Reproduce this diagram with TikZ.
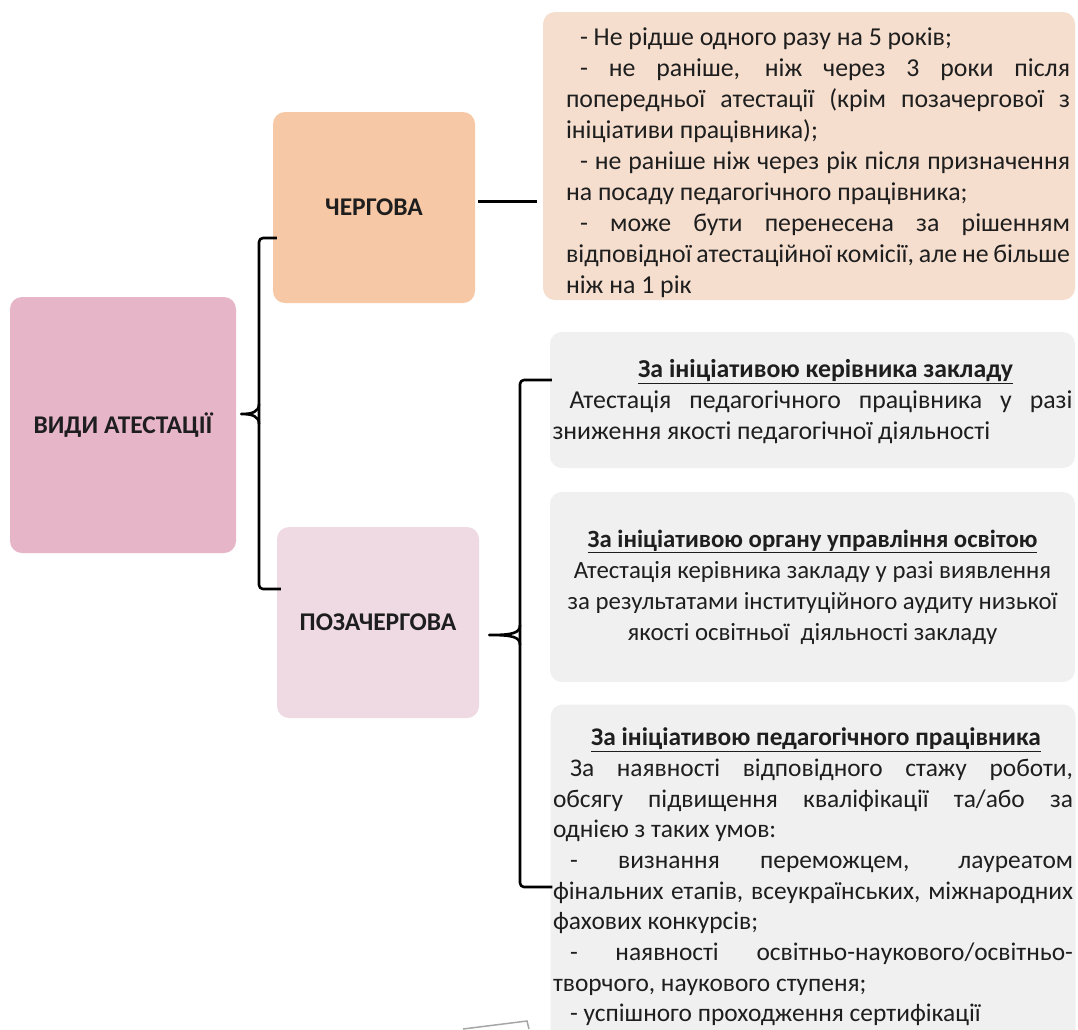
\documentclass[tikz,border=0pt]{standalone}
\usepackage{fontspec}
\setmainfont{Carlito}
\usetikzlibrary{calc}
\definecolor{cpink}{HTML}{E7B5C8}
\definecolor{cpeach}{HTML}{F7C8A5}
\definecolor{clight}{HTML}{EFDAE3}
\definecolor{ctop}{HTML}{F5DECE}
\definecolor{cgray}{HTML}{F0F0F0}
\definecolor{ink}{HTML}{1E1E1E}
\newcommand{\jl}[1]{\makebox[\linewidth][s]{#1}}
\begin{document}
\begin{tikzpicture}[x=1pt,y=-1pt,
  box/.style={rectangle, rounded corners=12pt, inner sep=0pt, draw=none, text=ink},
  head/.style={font=\fontsize{25.5}{31}\selectfont\bfseries},
  br/.style={line width=2.6pt, black, line join=round}]
\useasboundingbox (0,0) rectangle (1078,1029);
\fill[white] (0,0) rectangle (1078,1029);

% left column
\node[box, head, fill=cpink, minimum width=226pt, minimum height=256pt] (vidy) at (123,425) {ВИДИ АТЕСТАЦІЇ};
\node[box, head, fill=cpeach, minimum width=202pt, minimum height=191pt] (cherg) at (374,207.5) {ЧЕРГОВА};
\node[box, head, fill=clight, minimum width=202pt, minimum height=191pt] (pozach) at (378,622.5) {ПОЗАЧЕРГОВА};

% right column
\node[box, font=\fontsize{25.8}{31}\selectfont, fill=ctop, minimum width=532pt, minimum height=288pt] (t1) at (809,156)
{\hspace*{18pt}\raisebox{-6.5pt}[\height][\depth]{\parbox{504pt}{%
\hspace*{14pt}- Не рідше одного разу на 5 років;\\
\jl{\hspace*{14pt}- не раніше, ніж через 3 роки після}\\
\jl{попередньої атестації (крім позачергової з}\\
ініціативи працівника);\\
\jl{\hspace*{14pt}- не раніше ніж через рік після призначення}\\
на посаду педагогічного працівника;\\
\jl{\hspace*{14pt}- може бути перенесена за рішенням}\\
\jl{відповідної атестаційної комісії, але не більше}\\
ніж на 1 рік}}};

\node[box, font=\fontsize{25.8}{31}\selectfont, fill=cgray, minimum width=525pt, minimum height=136pt] (b2) at (812.5,400)
{\raisebox{-2pt}[\height][\depth]{\parbox{520pt}{%
\makebox[\linewidth]{\hspace*{26pt}\bfseries\underline{За ініціативою керівника закладу}}\\
\jl{\hspace*{17pt}Атестація педагогічного працівника у разі}\\
зниження якості педагогічної діяльності}}};

\node[box, font=\fontsize{24.8}{31}\selectfont, fill=cgray, minimum width=525pt, minimum height=190pt, align=center] (b3) at (812.5,587)
{\textbf{\underline{За ініціативою органу управління освітою}}\\
Атестація керівника закладу у разі виявлення\\
за результатами інституційного аудиту низької\\
якості освітньої\ \ діяльності закладу};

\node[box, font=\fontsize{25.4}{30.7}\selectfont, fill=cgray, minimum width=525pt, minimum height=345pt] (b4) at (813,877)
{\parbox{520pt}{%
\makebox[\linewidth]{\hspace*{6pt}\bfseries\underline{За ініціативою педагогічного працівника}}\\
\jl{\hspace*{17pt}За наявності відповідного стажу роботи,}\\
\jl{обсягу підвищення кваліфікації та/або за}\\
однією з таких умов:\\
\jl{\hspace*{17pt}- визнання переможцем, лауреатом}\\
\jl{фінальних етапів, всеукраїнських, міжнародних}\\
фахових конкурсів;\\
\jl{\hspace*{17pt}- наявності освітньо-наукового/освітньо-}\\
творчого, наукового ступеня;\\
\hspace*{17pt}- успішного проходження сертифікації}};

% left brace: vidy -> cherg, pozach
\coordinate (lbx) at (259,0);
\draw[br, rounded corners=4pt] ($(cherg.west)+(4,30.5)$) -- (lbx |- {$(cherg.west)+(4,30.5)$}) -- (lbx |- {$(pozach.west)+(4,-33.5)$}) -- ($(pozach.west)+(4,-33.5)$);
\draw[br] (259,404) .. controls (259,412) and (252,414) .. ($(vidy.east)+(5,-11)$)
          .. controls (252,414) and (259,416) .. (259,424);

% cherg -> t1
\draw[br] ($(cherg.east)+(3,-6)$) -- ($(t1.west)+(-6,45.5)$);

% right brace: pozach -> b2, b3, b4
\coordinate (rbx) at (520,0);
\draw[br, rounded corners=4pt] ($(b2.west)+(2,-20)$) -- (rbx |- {$(b2.west)+(2,-20)$}) -- (rbx |- {$(b4.west)+(2,10)$}) -- ($(b4.west)+(2,10)$);
\draw[br] (520,625) .. controls (520,633) and (513,635) .. ($(pozach.east)+(10,12.5)$)
          .. controls (513,635) and (520,637) .. (520,645);

% scan edge at the bottom
\draw[gray!70, line width=1.5pt] (463,1029) -- (527,1021) -- (529,1029);
\end{tikzpicture}
\end{document}
